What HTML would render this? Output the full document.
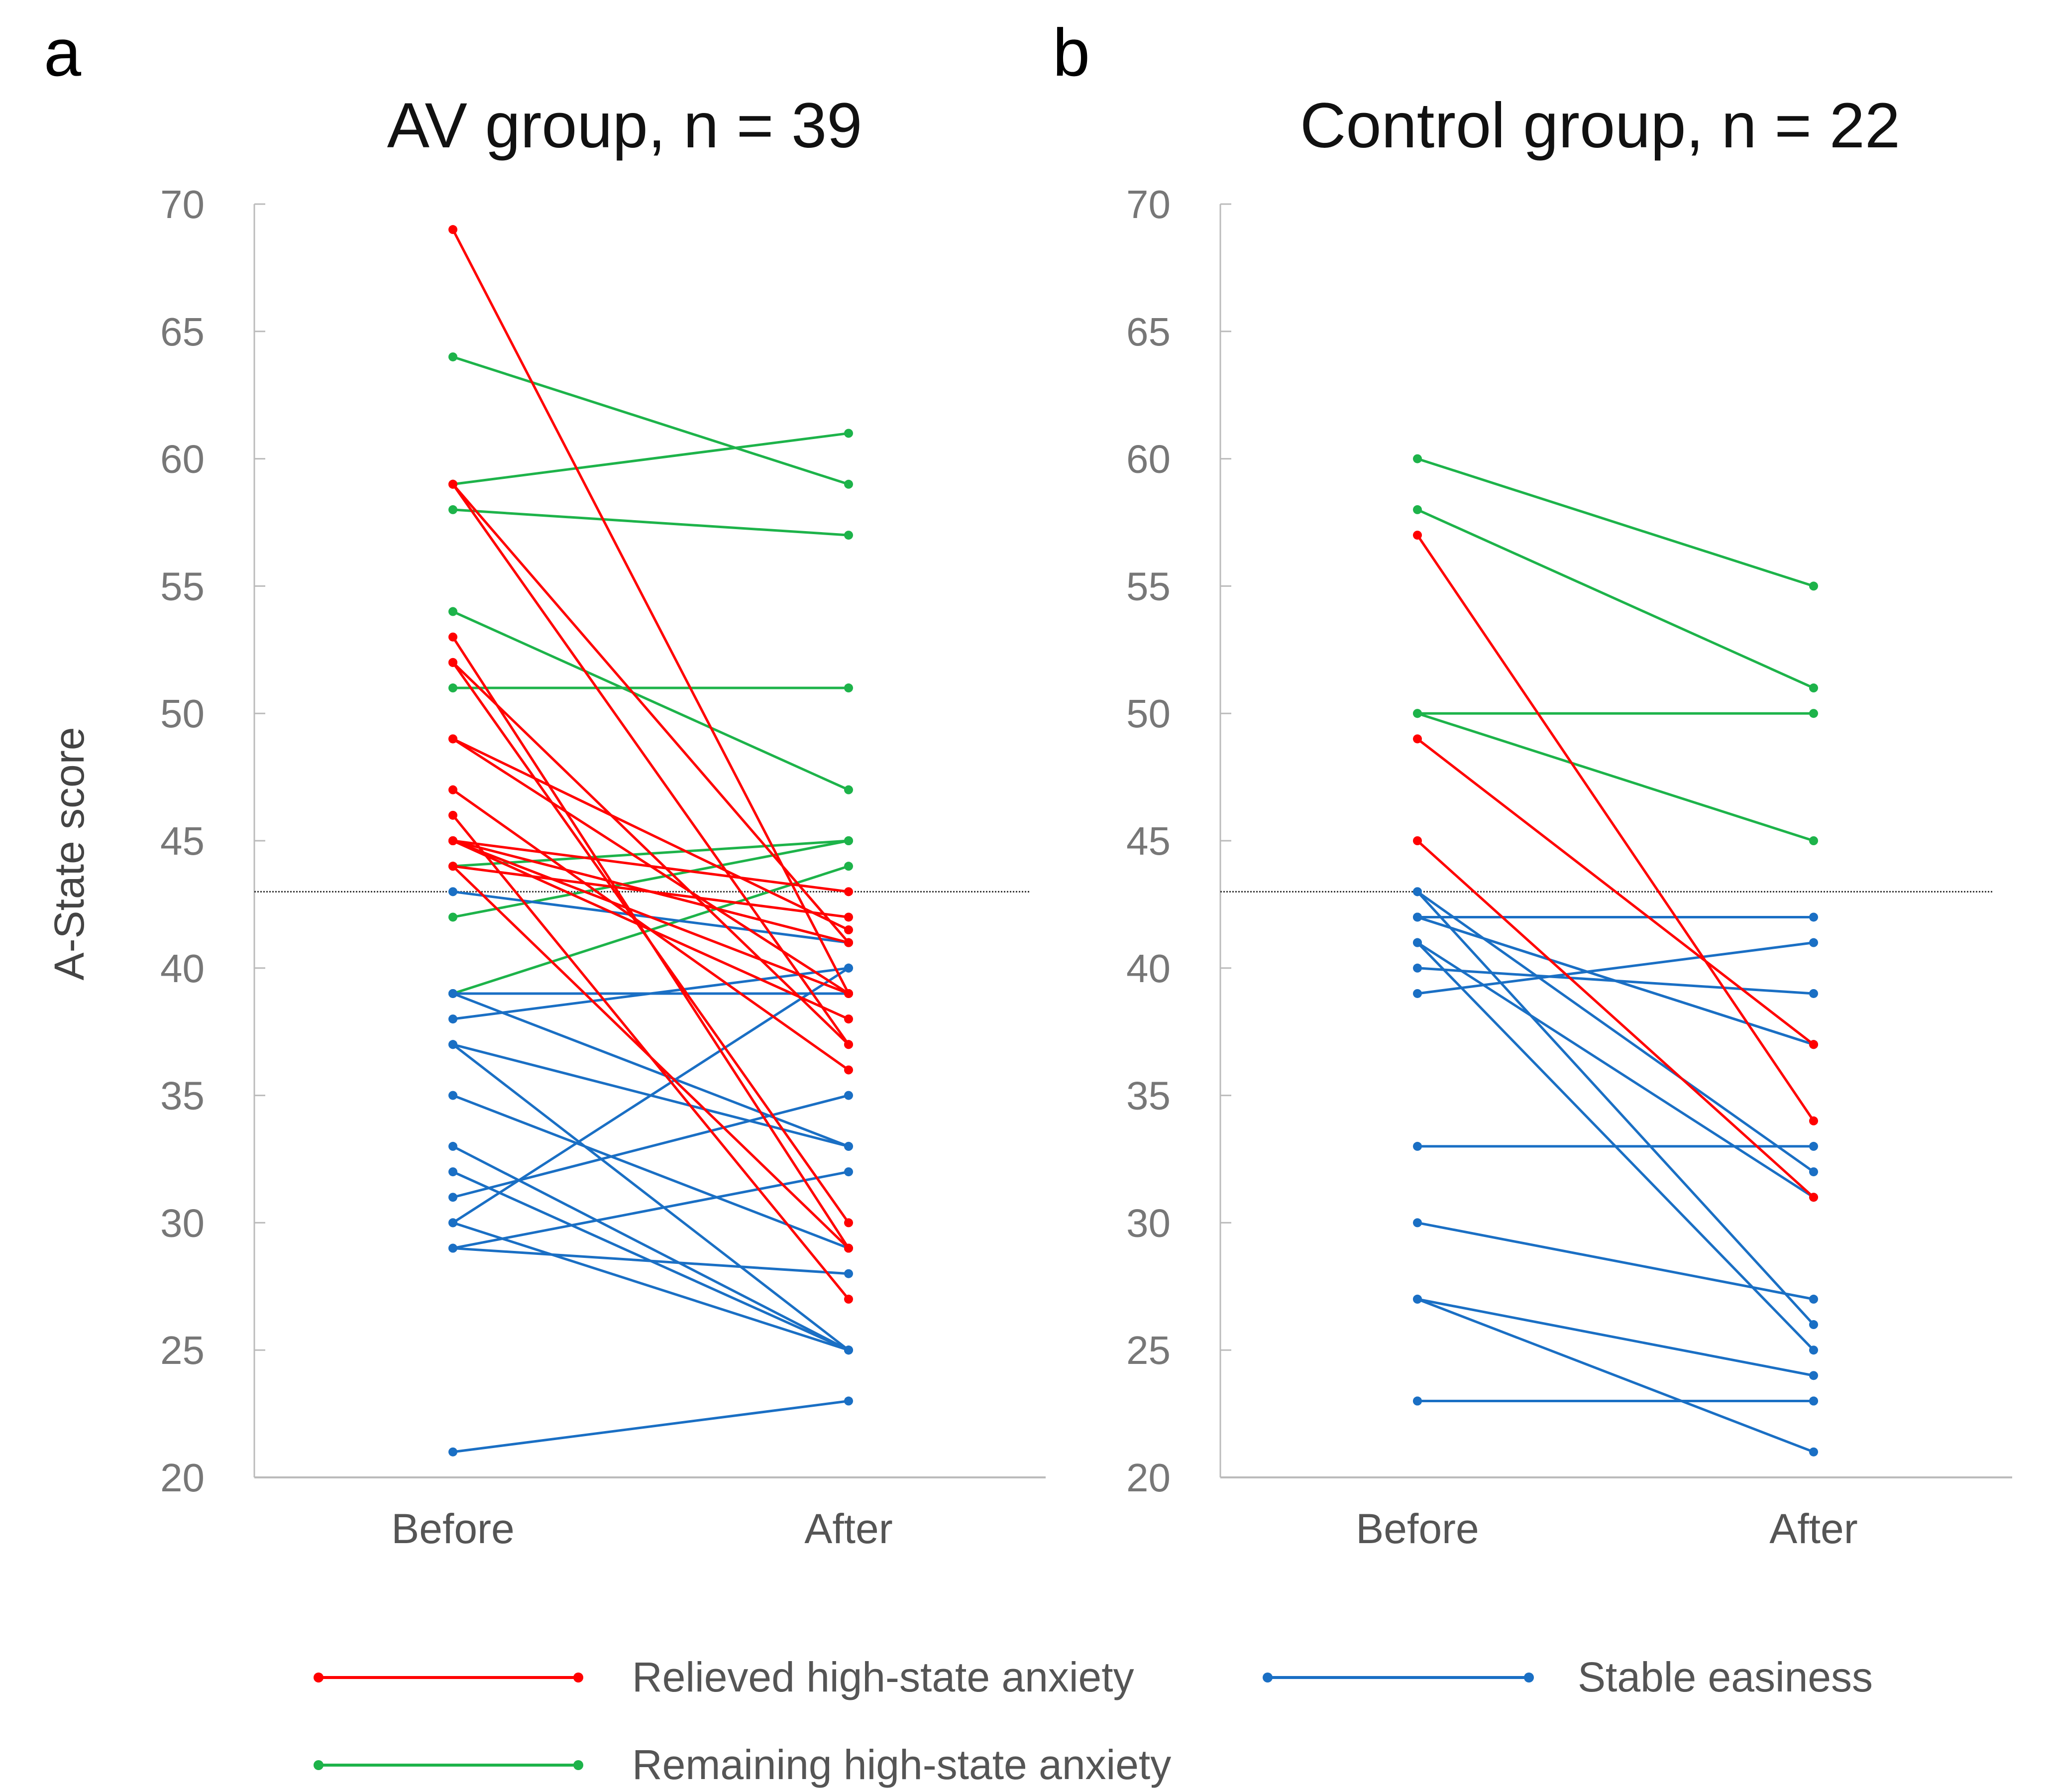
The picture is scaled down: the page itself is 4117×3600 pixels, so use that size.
<!DOCTYPE html>
<html><head><meta charset="utf-8"><style>
body{margin:0;background:#fff}
svg{display:block;font-family:"Liberation Sans",Arial,sans-serif}
</style></head><body>
<svg id="chart" width="4117" height="3600" viewBox="0 0 4117 3600" xmlns="http://www.w3.org/2000/svg">
<text x="88" y="152" font-size="135" fill="#000">a</text>
<text x="2115" y="152" font-size="135" fill="#000">b</text>
<text x="1255" y="296" font-size="128" text-anchor="middle" fill="#111">AV group, n = 39</text>
<text x="3215" y="296" font-size="128" text-anchor="middle" fill="#111">Control group, n = 22</text>
<text transform="translate(168,1715) rotate(-90)" font-size="84" text-anchor="middle" fill="#444">A-State score</text>
<g id="legend">
<g>
<line x1="640" y1="3370" x2="1162" y2="3370" stroke="#ff0000" stroke-width="6"/><circle cx="640" cy="3370" r="10" fill="#ff0000"/><circle cx="1162" cy="3370" r="10" fill="#ff0000"/>
<text x="1270" y="3398" font-size="84" fill="#555">Relieved high-state anxiety</text></g>
<g>
<line x1="2547" y1="3370" x2="3072" y2="3370" stroke="#1a6fc4" stroke-width="6"/><circle cx="2547" cy="3370" r="10" fill="#1a6fc4"/><circle cx="3072" cy="3370" r="10" fill="#1a6fc4"/>
<text x="3170" y="3398" font-size="84" fill="#555">Stable easiness</text></g>
<g>
<line x1="640" y1="3546" x2="1162" y2="3546" stroke="#1db34a" stroke-width="6"/><circle cx="640" cy="3546" r="10" fill="#1db34a"/><circle cx="1162" cy="3546" r="10" fill="#1db34a"/>
<text x="1270" y="3574" font-size="84" fill="#555">Remaining high-state anxiety</text></g>
</g>
</svg>
<script>
const yTicks=[20,25,30,35,40,45,50,55,60,65,70];
const xCategories=["Before","After"];
const threshold=43;
const avRedBefore=[69,59,59,53,52,52,49,49,47,46,45,45,45,44,44,45];
const avRedAfter=[39,41,37,29,37,30,41.5,39,36,27,39,38,43,42,29,41];
const avGreenBefore=[64,59,58,54,51,44,42,39];
const avGreenAfter=[59,61,57,47,51,45,45,44];
const avBlueBefore=[43,39,39,38,37,37,35,33,32,31,30,30,29,29,21];
const avBlueAfter=[41,39,33,40,33,25,29,25,25,35,40,25,32,28,23];
const ctRedBefore=[57,49,45];
const ctRedAfter=[34,37,31];
const ctGreenBefore=[60,58,50,50];
const ctGreenAfter=[55,51,50,45];
const ctBlueBefore=[43,43,42,42,42,41,41,40,39,33,30,27,27,23,23];
const ctBlueAfter=[32,26,42,37,37,31,25,39,41,33,27,24,21,23,23];

const NS="http://www.w3.org/2000/svg";
const svg=document.getElementById('chart');
const RED="#ff0000",GREEN="#1db34a",BLUE="#1a6fc4";
const yTop=410,yBot=2968;
function yScale(v){return yBot-(v-20)/(70-20)*(yBot-yTop);}
function mk(tag,attrs,parent){const e=document.createElementNS(NS,tag);for(const k in attrs)e.setAttribute(k,attrs[k]);(parent||svg).appendChild(e);return e;}
function panel(id,left,right,xb,xa,refEnd,series){
  const g=mk('g',{});
  
  
  const xScale=i=>i===0?xb:xa;
  const ax=mk('line',{x1:left,y1:yTop,x2:left,y2:yBot,stroke:'#bbb','stroke-width':3},g);
  
  
  const bx=mk('line',{x1:left,y1:yBot,x2:right,y2:yBot,stroke:'#bbb','stroke-width':4},g);
  
  
  yTicks.forEach(t=>{
    const tk=mk('line',{x1:left,y1:yScale(t),x2:left+22,y2:yScale(t),stroke:'#bbb','stroke-width':3},g);
    
    
    const tl=mk('text',{x:left-100,y:yScale(t)+28,'font-size':80,'text-anchor':'end',fill:'#777'},g);
    tl.textContent=t;
    
    
  });
  xCategories.forEach((c,i)=>{
    const xl=mk('text',{x:xScale(i),y:3100,'font-size':84,'text-anchor':'middle',fill:'#555'},g);
    xl.textContent=c;
    
    
  });
  const rl=mk('line',{x1:left,y1:yScale(threshold),x2:refEnd,y2:yScale(threshold),stroke:'#333','stroke-width':3,'stroke-dasharray':'3 3'},g);
  
  
  series.forEach(([bef,aft,col,name])=>{
    bef.forEach((b,i)=>{
      const l=mk('line',{x1:xScale(0),y1:yScale(b),x2:xScale(1),y2:yScale(aft[i]),stroke:col,'stroke-width':5},g);
      
      
      [[0,b],[1,aft[i]]].forEach(([k,v])=>{
        const c=mk('circle',{cx:xScale(k),cy:yScale(v),r:9,fill:col},g);
        
        
      });
    });
  });
}
panel('panel-a-plot',511,2101,910,1705,2068,[[avGreenBefore,avGreenAfter,GREEN,'remaining'],[avBlueBefore,avBlueAfter,BLUE,'stable'],[avRedBefore,avRedAfter,RED,'relieved']]);
panel('panel-b-plot',2452,4043,2848,3644,4006,[[ctGreenBefore,ctGreenAfter,GREEN,'remaining'],[ctBlueBefore,ctBlueAfter,BLUE,'stable'],[ctRedBefore,ctRedAfter,RED,'relieved']]);
</script>
</body></html>
